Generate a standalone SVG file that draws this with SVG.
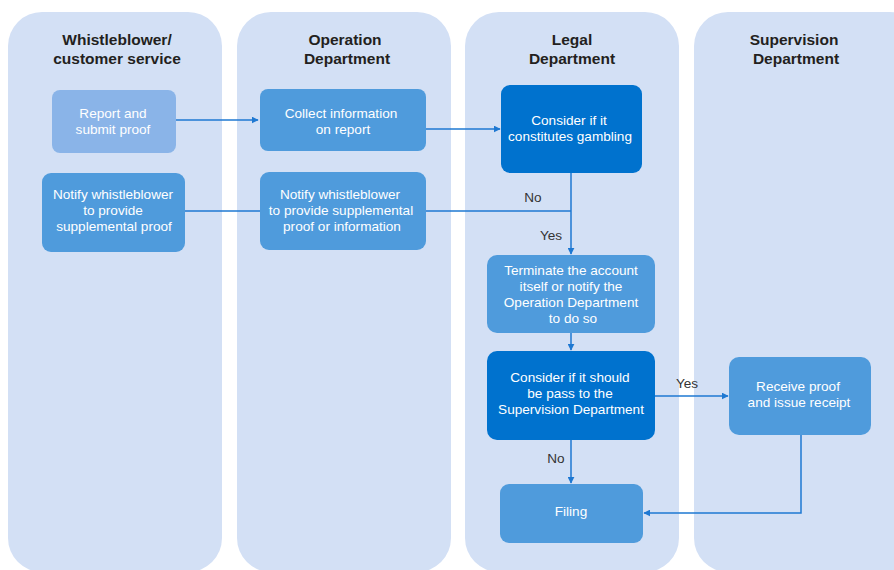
<svg xmlns="http://www.w3.org/2000/svg" width="894" height="570" viewBox="0 0 894 570">
<style>
.lane{fill:#D3E0F5}
.hd{font-family:"Liberation Sans",Arial,sans-serif;font-size:15.5px;font-weight:bold;fill:#231F20;text-anchor:middle}
.t{font-family:"Liberation Sans",Arial,sans-serif;font-size:13.6px;fill:#FFFFFF;text-anchor:middle}
.lb{font-family:"Liberation Sans",Arial,sans-serif;font-size:13.6px;fill:#333333;text-anchor:middle}
.n1{fill:#8AB4E8}
.n2{fill:#4F9BDC}
.n3{fill:#0072CE}
.c{fill:none;stroke:#1E78D2;stroke-width:1.5}
</style>
<defs>
<marker id="ah" viewBox="0 0 10 10" refX="9" refY="5" markerWidth="7" markerHeight="7" markerUnits="userSpaceOnUse" orient="auto">
<path d="M0,0 L10,5 L0,10 z" fill="#1E78D2"/>
</marker>
</defs>
<g id="lanes">
<rect class="lane" x="8" y="12" width="214" height="560" rx="34"/>
<rect class="lane" x="237" y="12" width="214" height="560" rx="34"/>
<rect class="lane" x="465" y="12" width="214" height="560" rx="34"/>
<rect class="lane" x="694" y="12" width="230" height="560" rx="34"/>
<text class="hd" x="117" y="45">Whistleblower/</text>
<text class="hd" x="117" y="64">customer service</text>
<text class="hd" x="345" y="45">Operation</text>
<text class="hd" x="347" y="64">Department</text>
<text class="hd" x="572" y="45">Legal</text>
<text class="hd" x="572" y="64">Department</text>
<text class="hd" x="794" y="45">Supervision</text>
<text class="hd" x="796" y="64">Department</text>
</g>
<g id="connectors">
<path class="c" d="M176,120 H258" marker-end="url(#ah)"/>
<path class="c" d="M426,129 H500" marker-end="url(#ah)"/>
<path class="c" d="M571,173 V254" marker-end="url(#ah)"/>
<path class="c" d="M185,211 H571"/>
<path class="c" d="M571,333 V350" marker-end="url(#ah)"/>
<path class="c" d="M655,396 H728" marker-end="url(#ah)"/>
<path class="c" d="M571,440 V483" marker-end="url(#ah)"/>
<path class="c" d="M801,435 V513 H644" marker-end="url(#ah)"/>
<text class="lb" x="533" y="202">No</text>
<text class="lb" x="551" y="240">Yes</text>
<text class="lb" x="687" y="388">Yes</text>
<text class="lb" x="556" y="463">No</text>
</g>
<g id="report">
<rect class="n1" x="52" y="90" width="124" height="63" rx="8"/>
<text class="t" x="113" y="118">Report and</text>
<text class="t" x="113" y="134">submit proof</text>
</g>
<g id="collect">
<rect class="n2" x="260" y="89" width="166" height="62" rx="8"/>
<text class="t" x="341" y="118">Collect information</text>
<text class="t" x="343" y="134">on report</text>
</g>
<g id="gambling">
<rect class="n3" x="501" y="85" width="141" height="88" rx="9"/>
<text class="t" x="569" y="125">Consider if it</text>
<text class="t" x="570" y="141">constitutes gambling</text>
</g>
<g id="notify1">
<rect class="n2" x="42" y="173" width="143" height="79" rx="9"/>
<text class="t" x="113" y="199">Notify whistleblower</text>
<text class="t" x="113" y="215">to provide</text>
<text class="t" x="114" y="231">supplemental proof</text>
</g>
<g id="notify2">
<rect class="n2" x="260" y="172" width="166" height="78" rx="9"/>
<text class="t" x="340" y="199">Notify whistleblower</text>
<text class="t" x="341" y="215">to provide supplemental</text>
<text class="t" x="342" y="231">proof or information</text>
</g>
<g id="terminate">
<rect class="n2" x="487" y="255" width="168" height="78" rx="10"/>
<text class="t" x="571" y="275">Terminate the account</text>
<text class="t" x="571" y="291">itself or notify the</text>
<text class="t" x="571" y="307">Operation Department</text>
<text class="t" x="573" y="323">to do so</text>
</g>
<g id="pass">
<rect class="n3" x="487" y="351" width="168" height="89" rx="10"/>
<text class="t" x="570" y="382">Consider if it should</text>
<text class="t" x="570" y="398">be pass to the</text>
<text class="t" x="571" y="414">Supervision Department</text>
</g>
<g id="receive">
<rect class="n2" x="729" y="357" width="142" height="78" rx="10"/>
<text class="t" x="798" y="391">Receive proof</text>
<text class="t" x="799" y="407">and issue receipt</text>
</g>
<g id="filing">
<rect class="n2" x="500" y="484" width="143" height="59" rx="9"/>
<text class="t" x="571" y="516">Filing</text>
</g>
</svg>
